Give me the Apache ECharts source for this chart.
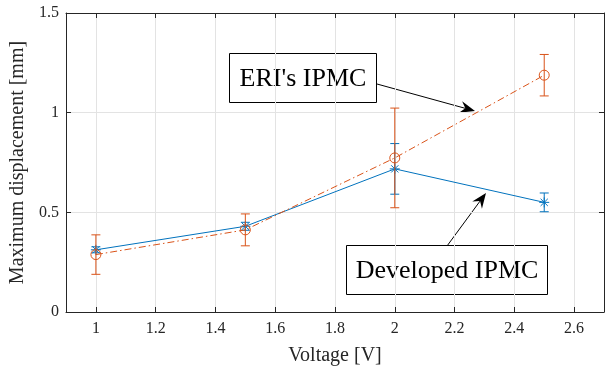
<!DOCTYPE html>
<html><head><meta charset="utf-8">
<script src="https://cdn.jsdelivr.net/npm/echarts@6/dist/echarts.min.js"></script>
<style>html,body{margin:0;padding:0;background:#fff}#c{width:611px;height:371px}</style>
</head><body><div id="c"></div>
<script>
const voltages = [1, 1.5, 2, 2.5];
const developedMean = [0.312, 0.430, 0.718, 0.550];
const developedErr  = [0.015, 0.020, 0.127, 0.047];
const eriMean = [0.288, 0.412, 0.773, 1.188];
const eriErr  = [0.099, 0.080, 0.250, 0.104];
const xTicks = [1, 1.2, 1.4, 1.6, 1.8, 2, 2.2, 2.4, 2.6];
const yTicks = [0, 0.5, 1, 1.5];

const BLUE = '#0072BD', ORANGE = '#D95319';
const FONT = 'Liberation Serif';

function errRender(color, marker) {
  return function (params, api) {
    const x = api.value(0), y = api.value(1), e = api.value(2);
    const c = api.coord([x, y]), t = api.coord([x, y + e]), b = api.coord([x, y - e]);
    const cap = 4.5, r = 5;
    const st = { stroke: color, lineWidth: 1, fill: null };
    const ch = [
      { type: 'line', shape: { x1: c[0], y1: t[1], x2: c[0], y2: b[1] }, style: st },
      { type: 'line', shape: { x1: c[0] - cap, y1: t[1], x2: c[0] + cap, y2: t[1] }, style: st },
      { type: 'line', shape: { x1: c[0] - cap, y1: b[1], x2: c[0] + cap, y2: b[1] }, style: st }
    ];
    if (marker === 'circle') {
      ch.push({ type: 'circle', shape: { cx: c[0], cy: c[1], r: r }, style: { stroke: color, lineWidth: 1, fill: 'none' } });
    } else {
      const d = r * 0.72;
      ch.push({ type: 'line', shape: { x1: c[0] - r, y1: c[1], x2: c[0] + r, y2: c[1] }, style: st });
      ch.push({ type: 'line', shape: { x1: c[0], y1: c[1] - r, x2: c[0], y2: c[1] + r }, style: st });
      ch.push({ type: 'line', shape: { x1: c[0] - d, y1: c[1] - d, x2: c[0] + d, y2: c[1] + d }, style: st });
      ch.push({ type: 'line', shape: { x1: c[0] - d, y1: c[1] + d, x2: c[0] + d, y2: c[1] - d }, style: st });
    }
    return { type: 'group', children: ch };
  };
}

function arrow(x1, y1, x2, y2) {
  const dx = x2 - x1, dy = y2 - y1, L = Math.hypot(dx, dy);
  const ux = dx / L, uy = dy / L, px = -uy, py = ux;
  const hl = 15, hw = 6, notch = 5;
  const bx = x2 - ux * hl, by = y2 - uy * hl;
  const nx = x2 - ux * (hl - notch), ny = y2 - uy * (hl - notch);
  return [
    { type: 'line', shape: { x1: x1, y1: y1, x2: nx, y2: ny }, style: { stroke: '#000', lineWidth: 1 } },
    { type: 'polygon', shape: { points: [[x2, y2], [bx + px * hw, by + py * hw], [nx, ny], [bx - px * hw, by - py * hw]] }, style: { fill: '#000' } }
  ];
}

function textBox(x, y, w, h, txt) {
  return [
    { type: 'rect', shape: { x: x, y: y, width: w, height: h }, style: { fill: '#fff', stroke: '#000', lineWidth: 1 } },
    { type: 'text', x: x + w / 2, y: y + h / 2 + 1, style: { text: txt, fontFamily: FONT, fontSize: 26, fill: '#000', align: 'center', verticalAlign: 'middle' } }
  ];
}

const chart = echarts.init(document.getElementById('c'), null, { renderer: 'canvas' });
const axisCommon = {
  axisLine: { show: true, onZero: false, lineStyle: { color: '#262626', width: 1 } },
  axisTick: { show: true, inside: true, length: 5, lineStyle: { color: '#262626' } }
};
chart.setOption({
  animation: false,
  grid: { left: 66, right: 7, top: 13, bottom: 56, containLabel: false },
  xAxis: [
    Object.assign({}, axisCommon, {
      type: 'value', min: 0.9, max: 2.7, position: 'bottom',
      axisTick: Object.assign({}, axisCommon.axisTick, { customValues: xTicks }),
      axisLabel: { customValues: xTicks, fontFamily: FONT, fontSize: 16, color: '#262626', margin: 9 },
      splitLine: { show: true, lineStyle: { color: '#e3e3e3' } },
      name: 'Voltage [V]', nameLocation: 'middle', nameGap: 34,
      nameTextStyle: { fontFamily: FONT, fontSize: 20, color: '#262626' }
    }),
    Object.assign({}, axisCommon, {
      type: 'value', min: 0.9, max: 2.7, position: 'top',
      axisTick: Object.assign({}, axisCommon.axisTick, { customValues: xTicks }),
      axisLabel: { show: false }, splitLine: { show: false }
    })
  ],
  yAxis: [
    Object.assign({}, axisCommon, {
      type: 'value', min: 0, max: 1.5, interval: 0.5, position: 'left',
      axisTick: Object.assign({}, axisCommon.axisTick, { customValues: yTicks }),
      axisLabel: { customValues: yTicks, fontFamily: FONT, fontSize: 16, color: '#262626', margin: 7 },
      splitLine: { show: true, lineStyle: { color: '#e3e3e3' } },
      name: 'Maximum displacement [mm]', nameLocation: 'middle', nameGap: 30, nameRotate: 90,
      nameTextStyle: { fontFamily: FONT, fontSize: 20, color: '#262626' }
    }),
    Object.assign({}, axisCommon, {
      type: 'value', min: 0, max: 1.5, interval: 0.5, position: 'right',
      axisTick: Object.assign({}, axisCommon.axisTick, { customValues: yTicks }),
      axisLabel: { show: false }, splitLine: { show: false }
    })
  ],
  series: [
    { type: 'line', name: 'Developed IPMC', data: voltages.map((v, i) => [v, developedMean[i]]), symbol: 'none',
      lineStyle: { color: BLUE, width: 1 }, z: 3 },
    { type: 'custom', data: voltages.map((v, i) => [v, developedMean[i], developedErr[i]]), renderItem: errRender(BLUE, 'star'), z: 3 },
    { type: 'line', name: "ERI's IPMC", data: voltages.map((v, i) => [v, eriMean[i]]), symbol: 'none',
      lineStyle: { color: ORANGE, width: 1, type: [7, 3, 1.5, 3] }, z: 4 },
    { type: 'custom', data: voltages.map((v, i) => [v, eriMean[i], eriErr[i]]), renderItem: errRender(ORANGE, 'circle'), z: 4 }
  ],
  graphic: [].concat(
    arrow(377, 84, 475, 111),
    arrow(447, 246, 486, 193),
    textBox(229.5, 53.5, 147, 49, "ERI's IPMC"),
    textBox(346.5, 245.5, 201, 49, 'Developed IPMC')
  )
});
</script></body></html>
